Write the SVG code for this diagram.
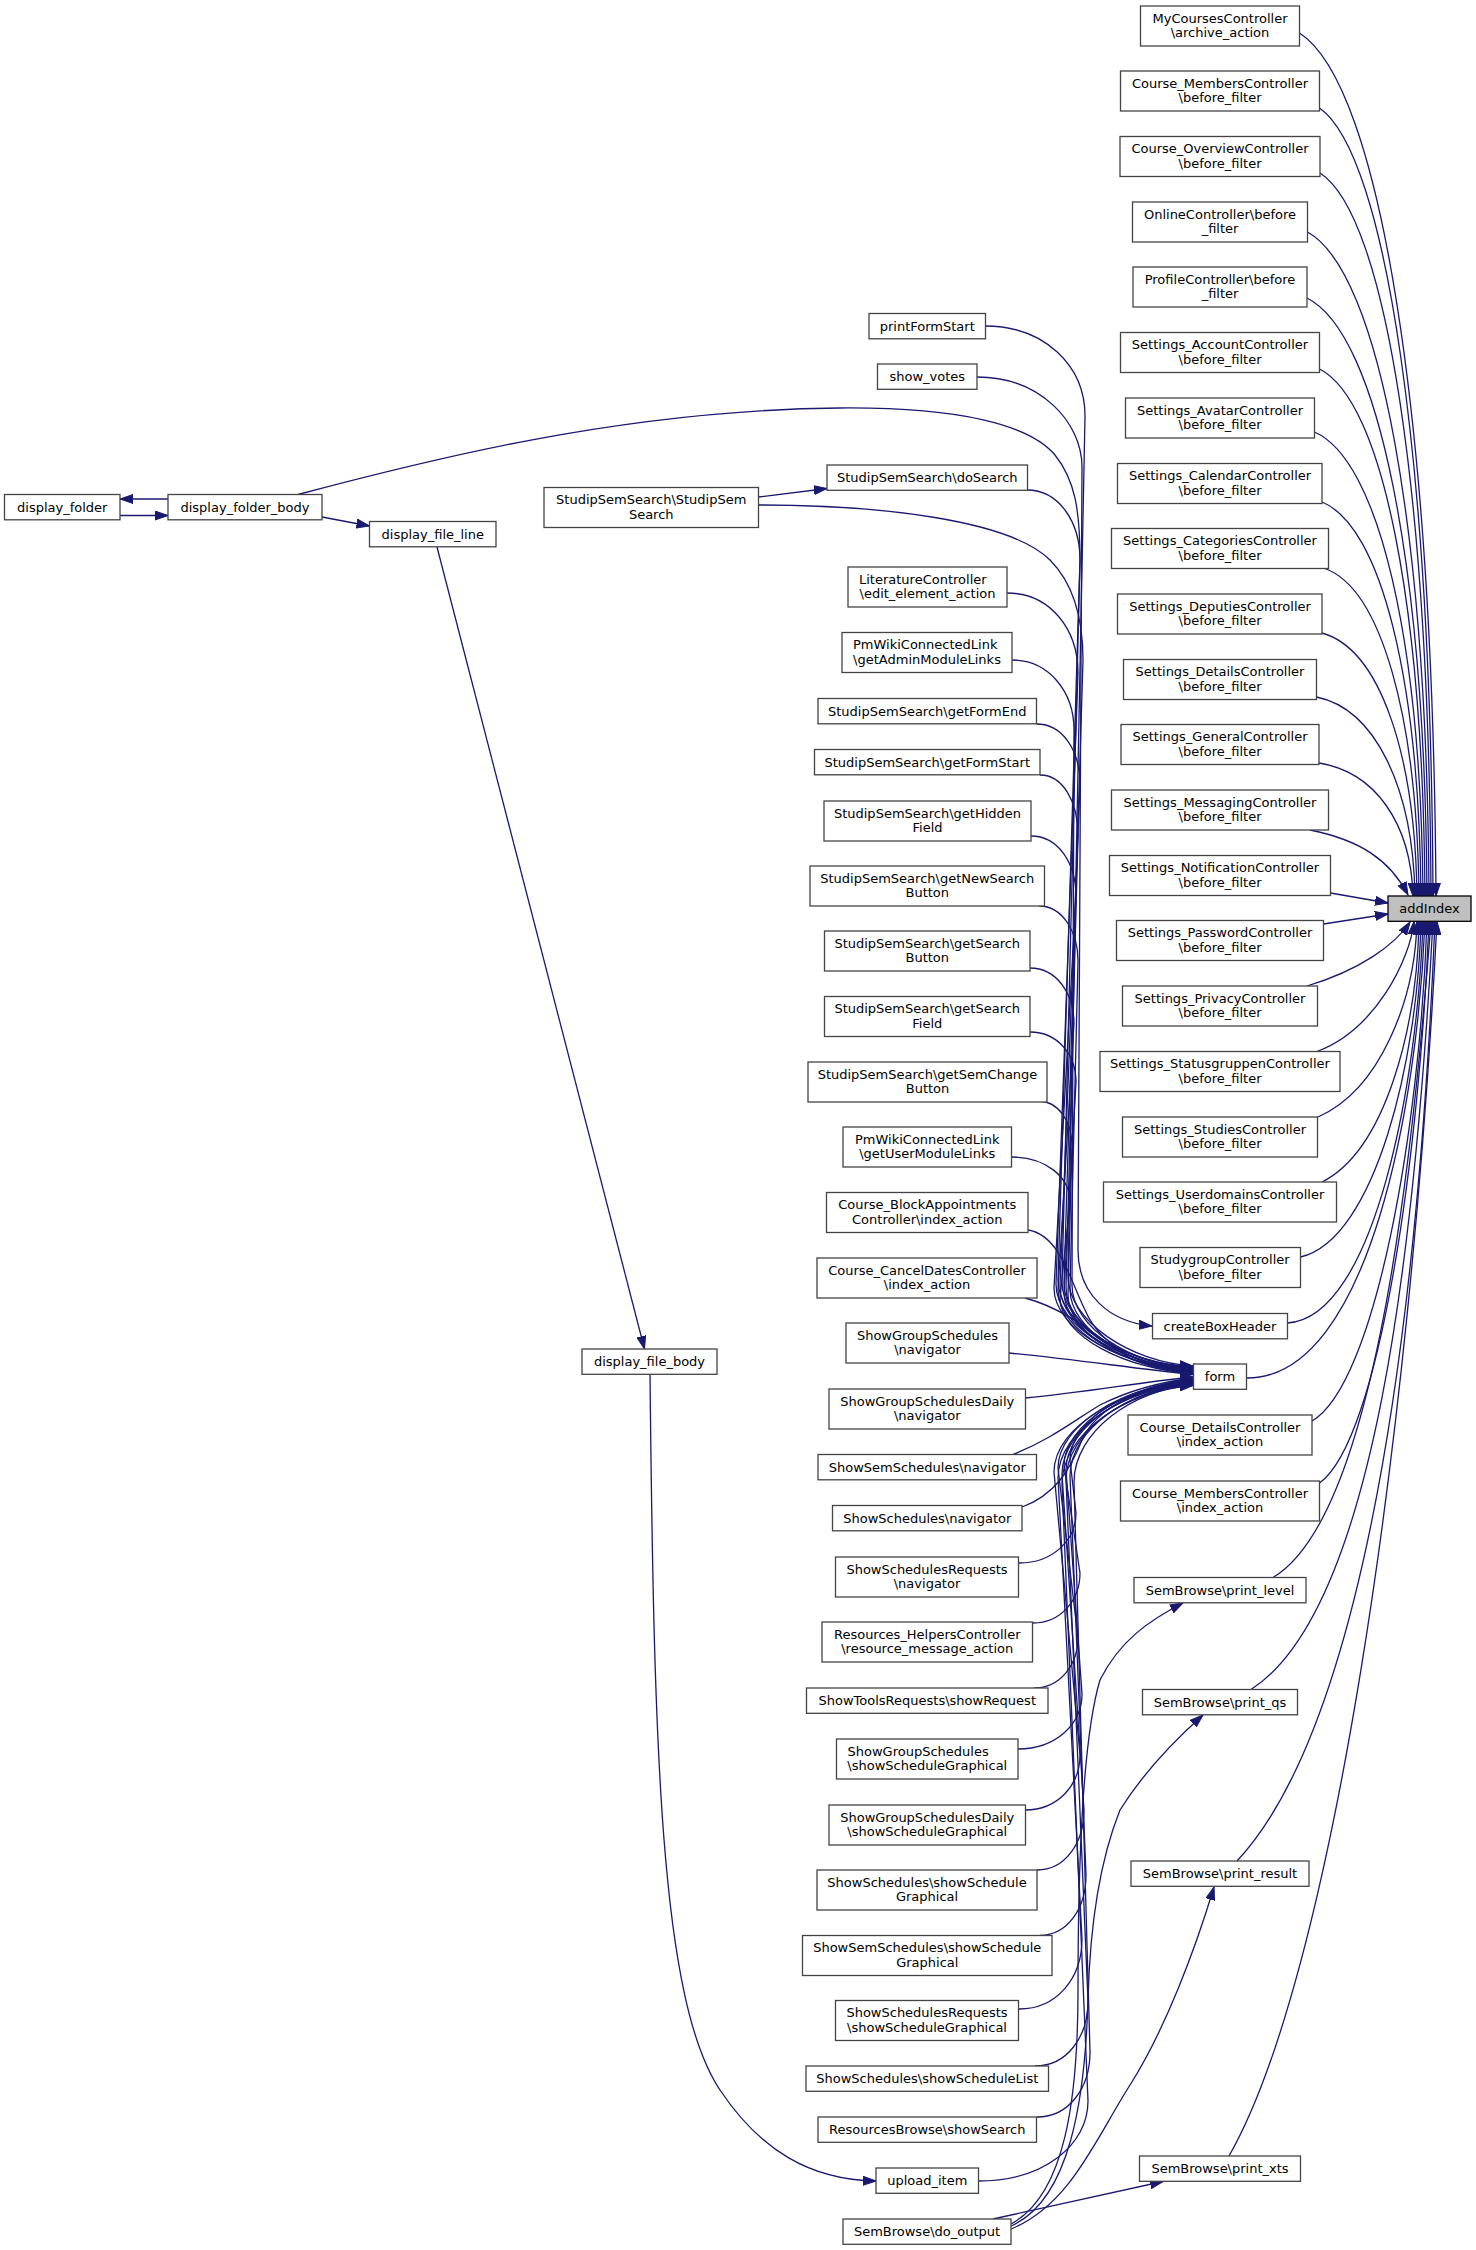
<svg xmlns="http://www.w3.org/2000/svg" width="1476" height="2250" viewBox="0 0 1476 2250">
<defs>
<style>
.e{fill:none;stroke:#191970;stroke-width:1.3;marker-end:url(#ah)}
.n rect{fill:#fff;stroke:#444;stroke-width:1.3}
.r rect{fill:#bfbfbf;stroke:#000;stroke-width:1.3}
text{font-family:"DejaVu Sans","Liberation Sans",sans-serif;font-size:13px;fill:#000}
.c{text-anchor:middle}
</style>
<marker id="ah" markerUnits="userSpaceOnUse" markerWidth="14" markerHeight="10" viewBox="0 0 14 10" refX="13" refY="5" orient="auto">
<path d="M0,0.5 L13,5 L0,9.5 z" fill="#191970" stroke="#191970" stroke-width="1"/>
</marker>
</defs>
<rect width="1476" height="2250" fill="#fff"/>
<g id="connectors">
<path class="e" d="M1299.5,33 C1381,85 1433,421 1436,896"/>
<path class="e" d="M1319.5,108 C1387,155 1431,463 1433,896"/>
<path class="e" d="M1320,173 C1387,216 1429,498 1431,896"/>
<path class="e" d="M1307.5,232 C1380,272 1427,531 1429,896"/>
<path class="e" d="M1307,298 C1379,334 1425,567 1427,896"/>
<path class="e" d="M1319.5,369 C1383,401 1423,606 1425,896"/>
<path class="e" d="M1314.5,432 C1379,460 1421,641 1423,896"/>
<path class="e" d="M1322,502 C1381,526 1419,679 1421,896"/>
<path class="e" d="M1325,568.5 C1381,589 1417,716 1419,896"/>
<path class="e" d="M1322,633 C1379,649 1415,751 1417,896"/>
<path class="e" d="M1316.5,697 C1375,709 1413,787 1415,896"/>
<path class="e" d="M1319,763 C1375,772 1411,823 1413,896"/>
<path class="e" d="M1310,830 C1360,840 1390,860 1408,895"/>
<path class="e" d="M1330.5,893 L1388,903"/>
<path class="e" d="M1323.5,924 L1388,914"/>
<path class="e" d="M1307,986 C1360,970 1395,945 1410,922"/>
<path class="e" d="M1317,1051.5 C1375,1030 1410,960 1414,921.5"/>
<path class="e" d="M1318,1117 C1380,1090 1415,1000 1417,921.5"/>
<path class="e" d="M1322,1182 C1385,1150 1417,1030 1419,921.5"/>
<path class="e" d="M1300.5,1257 C1375,1240 1418,1060 1421,921.5"/>
<path class="e" d="M1287.5,1323 C1375,1318 1418,1080 1423,921.5"/>
<path class="e" d="M1247,1378 C1370,1378 1418,1100 1425,921.5"/>
<path class="e" d="M1312,1421 C1375,1385 1420,1130 1427,921.5"/>
<path class="e" d="M1319.5,1483 C1380,1440 1420,1150 1429,921.5"/>
<path class="e" d="M1273,1577.5 C1370,1520 1410,1200 1431,921.5"/>
<path class="e" d="M1251,1689.5 C1375,1610 1415,1250 1433,921.5"/>
<path class="e" d="M1237,1861 C1350,1740 1415,1400 1435,921.5"/>
<path class="e" d="M1229,2156 C1330,1980 1410,1450 1437,921.5"/>
<path class="e" d="M985,326 C1045,326 1085,366 1085,416 L1068,1276 C1068,1321 1130,1362 1193,1366"/>
<path class="e" d="M977,377 C1040,377 1082,422 1082,467 L1078,1250 C1078,1295 1110,1322 1152,1326"/>
<path class="e" d="M298,494.5 C420,462 620,410 840,408 C960,407 1030,425 1055,455 C1075,480 1080,510 1080,560 L1058,1280 C1058,1325 1125,1363 1193,1367"/>
<path class="e" d="M1027,490 C1059,490 1080,522 1080,560 L1062,1282 C1062,1326 1128,1364 1193,1367.5"/>
<path class="e" d="M758.5,505 C880,505 1010,520 1050,560 C1075,585 1083,620 1083,660 L1064,1283 C1064,1327 1128,1364 1193,1368"/>
<path class="e" d="M1007,593 C1050,593 1078,629 1078,673 L1056,1284 C1056,1328 1125,1365 1193,1368.5"/>
<path class="e" d="M1012,660 C1049,660 1074,692 1074,730 L1072,1285 C1072,1328 1132,1365 1193,1369"/>
<path class="e" d="M1036.5,724 C1063,724 1080,751 1080,784 L1060,1286 C1060,1329 1126,1366 1193,1369.5"/>
<path class="e" d="M1040,775 C1063,775 1078,802 1078,835 L1066,1287 C1066,1330 1129,1366 1193,1370"/>
<path class="e" d="M1031,836 C1058,836 1076,863 1076,896 L1054,1288 C1054,1330 1123,1367 1193,1370.5"/>
<path class="e" d="M1039,906 C1062,906 1078,931 1078,961 L1070,1289 C1070,1331 1131,1367 1193,1371"/>
<path class="e" d="M1030,968 C1056,968 1074,993 1074,1023 L1058,1290 C1058,1331 1125,1368 1193,1371.5"/>
<path class="e" d="M1030,1032 C1058,1032 1076,1055 1076,1082 L1064,1292 C1064,1332 1128,1368 1193,1372"/>
<path class="e" d="M1038,1101 C1058,1101 1072,1121 1072,1146 L1068,1295 C1068,1334 1130,1369 1193,1372.5"/>
<path class="e" d="M1011,1157 C1046,1157 1070,1177 1070,1202 L1060,1298 C1060,1336 1126,1370 1193,1373"/>
<path class="e" d="M1028,1230 C1060,1235 1070,1280 1085,1310 C1100,1345 1140,1368 1193,1373.5"/>
<path class="e" d="M1025,1298 C1070,1310 1100,1340 1130,1358 C1150,1368 1170,1372 1193,1374"/>
<path class="e" d="M1009,1353 C1080,1360 1130,1368 1193,1374.5"/>
<path class="e" d="M1025,1398 C1090,1392 1140,1382 1193,1377"/>
<path class="e" d="M1013,1454.5 C1050,1440 1075,1420 1100,1405 C1130,1390 1160,1382 1193,1378"/>
<path class="e" d="M1022,1507 C1055,1495 1070,1470 1082,1440 C1095,1410 1140,1385 1193,1379"/>
<path class="e" d="M1019,1563 C1053,1563 1076,1540 1076,1513 L1070,1460 C1070,1420 1131,1384 1193,1380"/>
<path class="e" d="M1033,1623 C1061,1623 1080,1600 1080,1573 L1064,1466 C1064,1424 1128,1385 1193,1381"/>
<path class="e" d="M1034,1688 C1060,1688 1078,1665 1078,1638 L1058,1468 C1058,1425 1125,1385 1193,1381.5"/>
<path class="e" d="M1018,1749 C1056,1749 1082,1724 1082,1694 L1066,1470 C1066,1426 1129,1386 1193,1382"/>
<path class="e" d="M1025,1810 C1058,1810 1080,1785 1080,1755 L1054,1472 C1054,1427 1123,1387 1193,1382.5"/>
<path class="e" d="M1037,1870 C1065,1870 1084,1843 1084,1810 L1062,1474 C1062,1428 1127,1387 1193,1383"/>
<path class="e" d="M1040,1935.5 C1068,1935 1086,1908 1086,1875 L1070,1476 C1070,1429 1131,1388 1193,1383.5"/>
<path class="e" d="M1019,2009 C1057,2009 1082,1978 1082,1939 L1058,1478 C1058,1430 1125,1388 1193,1384"/>
<path class="e" d="M1035,2066 C1067,2066 1088,2037 1088,2001 L1066,1480 C1066,1431 1129,1389 1193,1384.5"/>
<path class="e" d="M1037,2117 C1069,2117 1090,2088 1090,2052 L1074,1482 C1074,1432 1133,1389 1193,1385"/>
<path class="e" d="M978.5,2181 C1044,2181 1088,2145 1088,2101 L1062,1484 C1062,1433 1127,1390 1193,1385.5"/>
<path class="e" d="M993,2219 L1163,2181.5"/>
<path class="e" d="M1011,2224 C1065,2195 1078,2100 1078,1990 C1078,1880 1082,1740 1100,1680 C1120,1640 1150,1620 1183,1603"/>
<path class="e" d="M1011,2226 C1070,2200 1085,2100 1088,2000 C1090,1920 1100,1860 1120,1810 C1145,1770 1175,1740 1203,1715"/>
<path class="e" d="M1011,2229 C1070,2205 1095,2140 1130,2085 C1165,2030 1195,1950 1214,1887"/>
<path class="e" d="M168,499 L120,499"/>
<path class="e" d="M120,515.5 L168,515.5"/>
<path class="e" d="M322,517 L369.5,526"/>
<path class="e" d="M437,547 L644.5,1349"/>
<path class="e" d="M650,1374.3 C654,1750 660,2000 720,2090 C760,2150 810,2180 876,2181"/>
<path class="e" d="M758.5,497 L827,488.5"/>
</g>
<g id="n_addIndex" class="r"><rect x="1388" y="896" width="83" height="25.3"/><text class="c" x="1429.5" y="913">addIndex</text></g>
<g id="n_mycourses" class="n"><rect x="1140.5" y="6" width="159" height="40"/><text class="c" x="1220" y="22.8">MyCoursesController</text><text class="c" x="1220" y="37.3">\archive_action</text></g>
<g id="n_coursemembers_bf" class="n"><rect x="1120.5" y="71" width="199" height="40"/><text class="c" x="1220" y="87.8">Course_MembersController</text><text class="c" x="1220" y="102.3">\before_filter</text></g>
<g id="n_courseoverview" class="n"><rect x="1120" y="136.5" width="200" height="40"/><text class="c" x="1220" y="153.3">Course_OverviewController</text><text class="c" x="1220" y="167.8">\before_filter</text></g>
<g id="n_online" class="n"><rect x="1132.5" y="202" width="175" height="40"/><text class="c" x="1220" y="218.8">OnlineController\before</text><text class="c" x="1220" y="233.3">_filter</text></g>
<g id="n_profile" class="n"><rect x="1133" y="267" width="174" height="40"/><text class="c" x="1220" y="283.8">ProfileController\before</text><text class="c" x="1220" y="298.3">_filter</text></g>
<g id="n_account" class="n"><rect x="1120.5" y="332.5" width="199" height="40"/><text class="c" x="1220" y="349.3">Settings_AccountController</text><text class="c" x="1220" y="363.8">\before_filter</text></g>
<g id="n_avatar" class="n"><rect x="1125.5" y="398" width="189" height="40"/><text class="c" x="1220" y="414.8">Settings_AvatarController</text><text class="c" x="1220" y="429.3">\before_filter</text></g>
<g id="n_calendar" class="n"><rect x="1117.5" y="463.5" width="204.5" height="40"/><text class="c" x="1220" y="480.3">Settings_CalendarController</text><text class="c" x="1220" y="494.8">\before_filter</text></g>
<g id="n_categories" class="n"><rect x="1111.5" y="528.5" width="217" height="40"/><text class="c" x="1220" y="545.3">Settings_CategoriesController</text><text class="c" x="1220" y="559.8">\before_filter</text></g>
<g id="n_deputies" class="n"><rect x="1117.5" y="594" width="204.5" height="40"/><text class="c" x="1220" y="610.8">Settings_DeputiesController</text><text class="c" x="1220" y="625.3">\before_filter</text></g>
<g id="n_details" class="n"><rect x="1123.5" y="659.5" width="193" height="40"/><text class="c" x="1220" y="676.3">Settings_DetailsController</text><text class="c" x="1220" y="690.8">\before_filter</text></g>
<g id="n_general" class="n"><rect x="1121" y="724.5" width="198" height="40"/><text class="c" x="1220" y="741.3">Settings_GeneralController</text><text class="c" x="1220" y="755.8">\before_filter</text></g>
<g id="n_messaging" class="n"><rect x="1111.5" y="790" width="217" height="40"/><text class="c" x="1220" y="806.8">Settings_MessagingController</text><text class="c" x="1220" y="821.3">\before_filter</text></g>
<g id="n_notification" class="n"><rect x="1109.5" y="855.5" width="221" height="40"/><text class="c" x="1220" y="872.3">Settings_NotificationController</text><text class="c" x="1220" y="886.8">\before_filter</text></g>
<g id="n_password" class="n"><rect x="1116.5" y="920.5" width="207" height="40"/><text class="c" x="1220" y="937.3">Settings_PasswordController</text><text class="c" x="1220" y="951.8">\before_filter</text></g>
<g id="n_privacy" class="n"><rect x="1122.5" y="986" width="195" height="40"/><text class="c" x="1220" y="1002.8">Settings_PrivacyController</text><text class="c" x="1220" y="1017.3">\before_filter</text></g>
<g id="n_statusgruppen" class="n"><rect x="1100" y="1051.5" width="240" height="40"/><text class="c" x="1220" y="1068.3">Settings_StatusgruppenController</text><text class="c" x="1220" y="1082.8">\before_filter</text></g>
<g id="n_studies" class="n"><rect x="1122.5" y="1117" width="195" height="40"/><text class="c" x="1220" y="1133.8">Settings_StudiesController</text><text class="c" x="1220" y="1148.3">\before_filter</text></g>
<g id="n_userdomains" class="n"><rect x="1103.5" y="1182" width="233" height="40"/><text class="c" x="1220" y="1198.8">Settings_UserdomainsController</text><text class="c" x="1220" y="1213.3">\before_filter</text></g>
<g id="n_studygroup" class="n"><rect x="1140" y="1247.5" width="160.5" height="40"/><text class="c" x="1220" y="1264.3">StudygroupController</text><text class="c" x="1220" y="1278.8">\before_filter</text></g>
<g id="n_createBoxHeader" class="n"><rect x="1152.5" y="1313.5" width="135" height="25.3"/><text class="c" x="1220" y="1330.5">createBoxHeader</text></g>
<g id="n_form" class="n"><rect x="1193.5" y="1364" width="53" height="25.3"/><text class="c" x="1220" y="1381">form</text></g>
<g id="n_coursedetails_idx" class="n"><rect x="1128" y="1415" width="184" height="40"/><text class="c" x="1220" y="1431.8">Course_DetailsController</text><text class="c" x="1220" y="1446.3">\index_action</text></g>
<g id="n_coursemembers_idx" class="n"><rect x="1120.5" y="1481" width="199" height="40"/><text class="c" x="1220" y="1497.8">Course_MembersController</text><text class="c" x="1220" y="1512.3">\index_action</text></g>
<g id="n_print_level" class="n"><rect x="1134" y="1577.5" width="172" height="25.3"/><text class="c" x="1220" y="1594.5">SemBrowse\print_level</text></g>
<g id="n_print_qs" class="n"><rect x="1142.5" y="1689.5" width="155" height="25.3"/><text class="c" x="1220" y="1706.5">SemBrowse\print_qs</text></g>
<g id="n_print_result" class="n"><rect x="1131" y="1861" width="178" height="25.3"/><text class="c" x="1220" y="1878">SemBrowse\print_result</text></g>
<g id="n_print_xts" class="n"><rect x="1139.5" y="2156" width="161" height="25.3"/><text class="c" x="1220" y="2173">SemBrowse\print_xts</text></g>
<g id="n_printFormStart" class="n"><rect x="869" y="313.5" width="116.5" height="25.3"/><text class="c" x="927.25" y="330.5">printFormStart</text></g>
<g id="n_show_votes" class="n"><rect x="877.5" y="364" width="99.5" height="25.3"/><text class="c" x="927.25" y="381">show_votes</text></g>
<g id="n_doSearch" class="n"><rect x="827" y="465" width="200.5" height="25.3"/><text class="c" x="927.25" y="482">StudipSemSearch\doSearch</text></g>
<g id="n_literature" class="n"><rect x="848" y="567" width="159" height="40"/><text x="859" y="583.8">LiteratureController</text><text class="c" x="927.5" y="598.3">\edit_element_action</text></g>
<g id="n_getAdminModuleLinks" class="n"><rect x="842" y="632.5" width="170" height="40"/><text x="853" y="649.3">PmWikiConnectedLink</text><text class="c" x="927" y="663.8">\getAdminModuleLinks</text></g>
<g id="n_getFormEnd" class="n"><rect x="818" y="698.5" width="218.5" height="25.3"/><text class="c" x="927.25" y="715.5">StudipSemSearch\getFormEnd</text></g>
<g id="n_getFormStart" class="n"><rect x="814.5" y="749.5" width="225.5" height="25.3"/><text class="c" x="927.25" y="766.5">StudipSemSearch\getFormStart</text></g>
<g id="n_getHiddenField" class="n"><rect x="824" y="801" width="207" height="40"/><text class="c" x="927.5" y="817.8">StudipSemSearch\getHidden</text><text class="c" x="927.5" y="832.3">Field</text></g>
<g id="n_getNewSearchButton" class="n"><rect x="810" y="866" width="234.5" height="40"/><text class="c" x="927.25" y="882.8">StudipSemSearch\getNewSearch</text><text class="c" x="927.25" y="897.3">Button</text></g>
<g id="n_getSearchButton" class="n"><rect x="824.5" y="931" width="205.5" height="40"/><text class="c" x="927.25" y="947.8">StudipSemSearch\getSearch</text><text class="c" x="927.25" y="962.3">Button</text></g>
<g id="n_getSearchField" class="n"><rect x="824.5" y="996.5" width="205.5" height="40"/><text class="c" x="927.25" y="1013.3">StudipSemSearch\getSearch</text><text class="c" x="927.25" y="1027.8">Field</text></g>
<g id="n_getSemChangeButton" class="n"><rect x="808" y="1062" width="239" height="40"/><text class="c" x="927.5" y="1078.8">StudipSemSearch\getSemChange</text><text class="c" x="927.5" y="1093.3">Button</text></g>
<g id="n_getUserModuleLinks" class="n"><rect x="843" y="1127" width="168.5" height="40"/><text class="c" x="927.25" y="1143.8">PmWikiConnectedLink</text><text class="c" x="927.25" y="1158.3">\getUserModuleLinks</text></g>
<g id="n_blockappointments" class="n"><rect x="826.5" y="1192.5" width="201.5" height="40"/><text class="c" x="927.25" y="1209.3">Course_BlockAppointments</text><text class="c" x="927.25" y="1223.8">Controller\index_action</text></g>
<g id="n_canceldates" class="n"><rect x="817" y="1258" width="220" height="40"/><text class="c" x="927" y="1274.8">Course_CancelDatesController</text><text class="c" x="927" y="1289.3">\index_action</text></g>
<g id="n_sgs_nav" class="n"><rect x="846" y="1323" width="163" height="40"/><text class="c" x="927.5" y="1339.8">ShowGroupSchedules</text><text class="c" x="927.5" y="1354.3">\navigator</text></g>
<g id="n_sgsd_nav" class="n"><rect x="829" y="1389" width="196.5" height="40"/><text class="c" x="927.25" y="1405.8">ShowGroupSchedulesDaily</text><text class="c" x="927.25" y="1420.3">\navigator</text></g>
<g id="n_sss_nav" class="n"><rect x="818" y="1454.5" width="218.5" height="25.3"/><text class="c" x="927.25" y="1471.5">ShowSemSchedules\navigator</text></g>
<g id="n_ss_nav" class="n"><rect x="832.5" y="1505.5" width="189.5" height="25.3"/><text class="c" x="927.25" y="1522.5">ShowSchedules\navigator</text></g>
<g id="n_ssr_nav" class="n"><rect x="835.5" y="1557" width="183" height="40"/><text class="c" x="927" y="1573.8">ShowSchedulesRequests</text><text class="c" x="927" y="1588.3">\navigator</text></g>
<g id="n_reshelpers" class="n"><rect x="822" y="1622" width="210.5" height="40"/><text class="c" x="927.25" y="1638.8">Resources_HelpersController</text><text class="c" x="927.25" y="1653.3">\resource_message_action</text></g>
<g id="n_showRequest" class="n"><rect x="806.5" y="1688" width="241.5" height="25.3"/><text class="c" x="927.25" y="1705">ShowToolsRequests\showRequest</text></g>
<g id="n_sgs_ssg" class="n"><rect x="836.5" y="1739" width="181.5" height="40"/><text x="847.5" y="1755.8">ShowGroupSchedules</text><text class="c" x="927.25" y="1770.3">\showScheduleGraphical</text></g>
<g id="n_sgsd_ssg" class="n"><rect x="829" y="1805" width="196.5" height="40"/><text class="c" x="927.25" y="1821.8">ShowGroupSchedulesDaily</text><text class="c" x="927.25" y="1836.3">\showScheduleGraphical</text></g>
<g id="n_ss_ssg" class="n"><rect x="817" y="1870" width="220" height="40"/><text class="c" x="927" y="1886.8">ShowSchedules\showSchedule</text><text class="c" x="927" y="1901.3">Graphical</text></g>
<g id="n_sss_ssg" class="n"><rect x="802.5" y="1935.5" width="249.5" height="40"/><text class="c" x="927.25" y="1952.3">ShowSemSchedules\showSchedule</text><text class="c" x="927.25" y="1966.8">Graphical</text></g>
<g id="n_ssr_ssg" class="n"><rect x="835.5" y="2000.5" width="183" height="40"/><text class="c" x="927" y="2017.3">ShowSchedulesRequests</text><text class="c" x="927" y="2031.8">\showScheduleGraphical</text></g>
<g id="n_ss_ssl" class="n"><rect x="806" y="2066" width="242.5" height="25.3"/><text class="c" x="927.25" y="2083">ShowSchedules\showScheduleList</text></g>
<g id="n_rb_showSearch" class="n"><rect x="818" y="2117" width="218.5" height="25.3"/><text class="c" x="927.25" y="2134">ResourcesBrowse\showSearch</text></g>
<g id="n_upload_item" class="n"><rect x="876" y="2168" width="102.5" height="25.3"/><text class="c" x="927.25" y="2185">upload_item</text></g>
<g id="n_do_output" class="n"><rect x="843" y="2219" width="168" height="25.3"/><text class="c" x="927" y="2236">SemBrowse\do_output</text></g>
<g id="n_studipsemsearch" class="n"><rect x="544" y="487.5" width="214.5" height="40"/><text class="c" x="651.25" y="504.3">StudipSemSearch\StudipSem</text><text class="c" x="651.25" y="518.8">Search</text></g>
<g id="n_display_file_body" class="n"><rect x="582" y="1349" width="135" height="25.3"/><text class="c" x="649.5" y="1366">display_file_body</text></g>
<g id="n_display_file_line" class="n"><rect x="369.5" y="521.5" width="126.5" height="25.3"/><text class="c" x="432.75" y="538.5">display_file_line</text></g>
<g id="n_display_folder_body" class="n"><rect x="168" y="494.5" width="154" height="25.3"/><text class="c" x="245" y="511.5">display_folder_body</text></g>
<g id="n_display_folder" class="n"><rect x="4.5" y="494.5" width="115.5" height="25.3"/><text class="c" x="62.25" y="511.5">display_folder</text></g>
</svg>
